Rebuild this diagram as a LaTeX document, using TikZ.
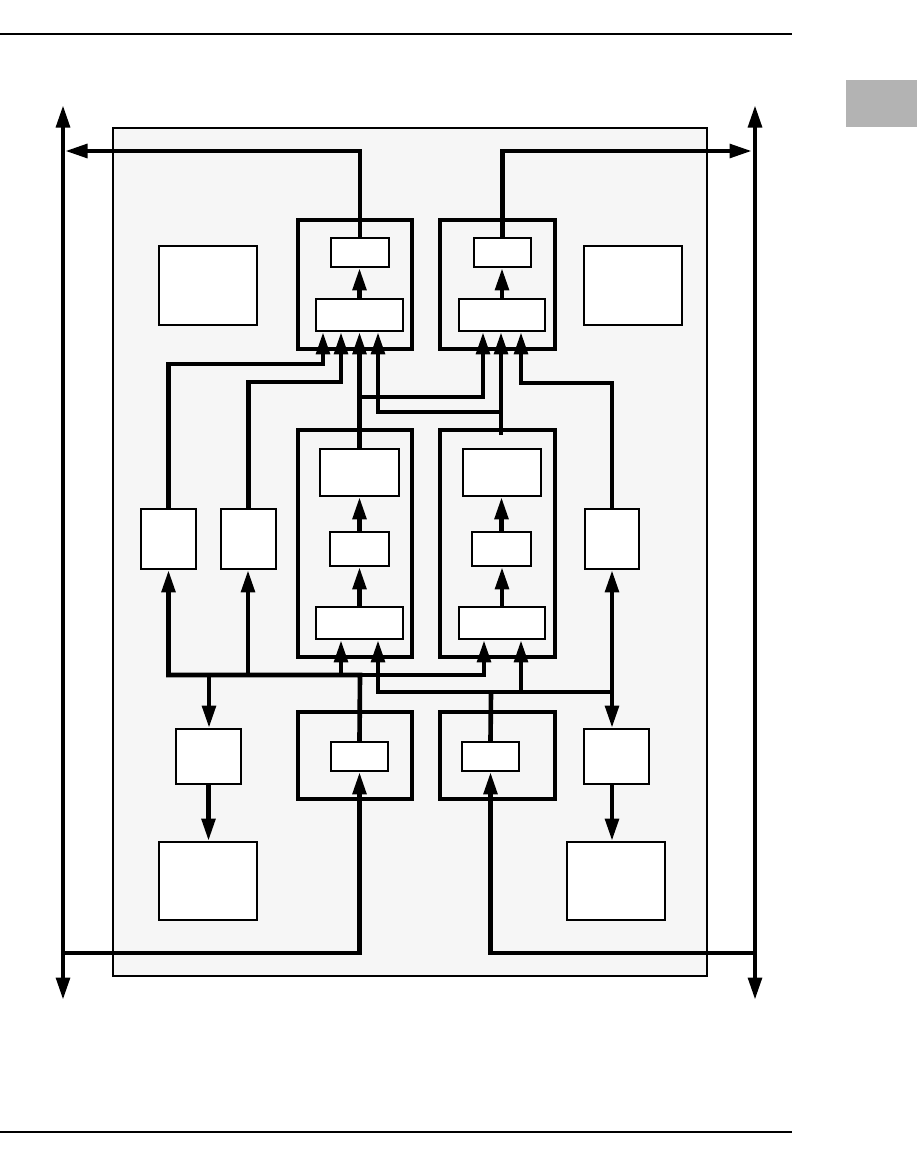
\documentclass[tikz,border=0pt]{standalone}
\usepackage{xcolor}
\usepackage{tikz}
\usetikzlibrary{arrows.meta,fit,calc}
\definecolor{pnlgray}{RGB}{246,246,246}
\definecolor{tabgray}{RGB}{179,179,179}
\tikzset{
  panel/.style={rectangle, draw=black, line width=0.8pt, fill=pnlgray, inner sep=0pt},
  frame/.style={rectangle, draw=black, line width=2.3pt, fill=pnlgray, inner sep=0pt},
  unit/.style={rectangle, draw=black, line width=1.4pt, fill=white, inner sep=0pt},
  bus/.style={line width=3.3pt},
  arrow/.style={bus, -{Triangle[length=16pt,width=9.5pt]}},
  dblarrow/.style={bus, {Triangle[length=16pt,width=9.5pt]}-{Triangle[length=16pt,width=9.5pt]}},
  rule/.style={line width=1.2pt}
}

\begin{document}
\begin{tikzpicture}[x=0.025cm,y=-0.025cm]
\useasboundingbox (0,0) rectangle (917,1157);
\draw[rule] (0,34) -- (792,34);
\draw[rule] (0,1132) -- (792,1132);
\fill[tabgray] (846,80) rectangle (917,127);
\node[panel, fit={(113,128)(707,976)}] (pnl) {};
\node[frame, fit={(298,220)(412,349)}] (ulbox) {};
\node[frame, fit={(440,220)(555,349)}] (urbox) {};
\node[unit, fit={(331,238)(389,267)}] (ulout) {};
\node[unit, fit={(316,299)(403,331)}] (ulin) {};
\node[unit, fit={(474,238)(531,267)}] (urout) {};
\node[unit, fit={(459,299)(545,331)}] (urin) {};
\node[unit, fit={(159,246)(257,325)}] (lmem) {};
\node[unit, fit={(584,246)(682,325)}] (rmem) {};
\node[frame, fit={(298,430)(412,657)}] (mlbox) {};
\node[unit, fit={(320,449)(399,496)}] (mltop) {};
\node[unit, fit={(330,532)(389,566)}] (mlmid) {};
\node[unit, fit={(316,607)(403,639)}] (mlin) {};
\node[frame, fit={(440,430)(555,657)}] (mrbox) {};
\node[unit, fit={(463,449)(541,496)}] (mrtop) {};
\node[unit, fit={(472,532)(531,566)}] (mrmid) {};
\node[unit, fit={(459,607)(545,639)}] (mrin) {};
\node[unit, fit={(141,509)(196,569)}] (sa) {};
\node[unit, fit={(221,509)(276,569)}] (sb) {};
\node[unit, fit={(585,509)(639,569)}] (sc) {};
\node[frame, fit={(298,712)(412,799)}] (blbox) {};
\node[unit, fit={(331,742)(388,771)}] (blin) {};
\node[frame, fit={(440,712)(555,799)}] (brbox) {};
\node[unit, fit={(462,742)(519,771)}] (brin) {};
\node[unit, fit={(176,729)(241,784)}] (dl) {};
\node[unit, fit={(584,729)(649,784)}] (dr) {};
\node[unit, fit={(159,842)(257,920)}] (fl) {};
\node[unit, fit={(567,842)(665,920)}] (fr) {};
\coordinate (lt) at (65,151);
\coordinate (rt) at (752,151);
\coordinate (lbt) at (63,105);
\coordinate (lbb) at (63,1000);
\coordinate (rbt) at (755,105);
\coordinate (rbb) at (755,1000);
\coordinate (lbj) at (63,953);
\coordinate (rbj) at (755,953);
\coordinate (ka) at (323,364);
\coordinate (kb) at (341,382);
\coordinate (kc) at (360,397);
\coordinate (kd) at (483,397);
\coordinate (ke) at (501,412);
\coordinate (kf) at (378,412);
\coordinate (kg) at (521,383);
\coordinate (kq) at (501,435);
\coordinate (kh) at (360,675);
\coordinate (ki) at (248,675);
\coordinate (kj) at (209,675);
\coordinate (kk) at (341,675);
\coordinate (kl) at (484,675);
\coordinate (km) at (491,692);
\coordinate (kn) at (378,692);
\coordinate (ko) at (521,692);
\coordinate (kp) at (612,692);
\draw[dblarrow] (lbt) -- (lbb);
\draw[dblarrow] (rbt) -- (rbb);
\draw[arrow] (ulout.north) |- (lt);
\draw[arrow] (urout.north) |- (rt);
\draw[arrow] (ulin.north) -- (ulin.north |- ulout.south);
\draw[arrow] (urin.north) -- (urin.north |- urout.south);
\draw[arrow] (mlin.north) -- (mlin.north |- mlmid.south);
\draw[arrow] (mlmid.north) -- (mlmid.north |- mltop.south);
\draw[arrow] (mrin.north) -- (mrin.north |- mrmid.south);
\draw[arrow] (mrmid.north) -- (mrmid.north |- mrtop.south);
\draw[arrow] (sa.north) |- (ka) -- (ka |- ulin.south);
\draw[arrow] (sb.north) |- (kb) -- (kb |- ulin.south);
\draw[arrow] (mltop.north) -- (mltop.north |- ulin.south);
\draw[arrow] (kc) -- (kd) -- (kd |- urin.south);
\draw[arrow] (kq) -- (kq |- urin.south);
\draw[arrow] (ke) -- (kf) -- (kf |- ulin.south);
\draw[arrow] (sc.north) |- (kg) -- (kg |- urin.south);
\draw[arrow] (blin.north) -- (kh) -| (sa.south);
\draw[arrow] (kh) -- (kl) -- (kl |- mrin.south);
\draw[arrow] (ki) -- (ki |- sb.south);
\draw[arrow] (kk) -- (kk |- mlin.south);
\draw[arrow] (kj) -- (kj |- dl.north);
\draw[arrow] (dl.south) -- (dl.south |- fl.north);
\draw[bus] (brin.north) -- (km);
\draw[arrow] (kp) -- (kn) -- (kn |- mlin.south);
\draw[arrow] (ko) -- (ko |- mrin.south);
\draw[arrow] (kp) -- (kp |- sc.south);
\draw[arrow] (kp) -- (kp |- dr.north);
\draw[arrow] (kp |- dr.south) -- (kp |- fr.north);
\draw[arrow] (lbj) -| (blin.south);
\draw[arrow] (rbj) -| (brin.south);
\end{tikzpicture}
\end{document}
